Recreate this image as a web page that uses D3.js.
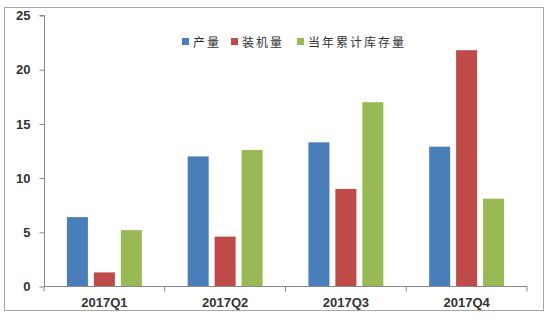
<!DOCTYPE html>
<html>
<head>
<meta charset="utf-8">
<script src="https://cdn.jsdelivr.net/npm/d3@7"></script>
<style>
  body { margin: 0; background: #fff; }
  text { font-family: Arial, "Liberation Sans", sans-serif; }
</style>
</head>
<body>
<div id="chart"></div>
<script>
// chart data
var quarters = ["2017Q1", "2017Q2", "2017Q3", "2017Q4"];
var seriesNames = ["产量", "装机量", "当年累计库存量"];
var output = [6.4, 12.0, 13.3, 12.9];
var installed = [1.3, 4.6, 9.0, 21.8];
var inventory = [5.2, 12.6, 17.0, 8.1];
var yTicks = [0, 5, 10, 15, 20, 25];
var colors = ["#4a7ebb", "#be4b48", "#98b954"];

var W = 554, H = 323;
var svg = d3.select("#chart").append("svg").attr("width", W).attr("height", H);

// outer frame
svg.append("rect")
    .attr("x", 4.5).attr("y", 7.5)
    .attr("width", 539).attr("height", 303)
    .attr("fill", "#fff").attr("stroke", "#a6a6a6");

var x = d3.scaleBand().domain(quarters).range([44, 527]);
var y = d3.scaleLinear().domain([0, 25]).range([286.5, 15.5]);
var inner = d3.scaleBand().domain(d3.range(3)).range([0, x.bandwidth()]).paddingInner(0.22).paddingOuter(0.85);

var series = [output, installed, inventory];

var g = svg.selectAll(".grp")
    .data(quarters).enter().append("g")
    .attr("class", "grp")
    .attr("transform", d => `translate(${x(d)},0)`);

g.selectAll("rect")
    .data((q, i) => series.map((s, k) => ({k: k, v: s[i]})))
    .enter().append("rect")
    .attr("x", d => inner(d.k))
    .attr("width", inner.bandwidth())
    .attr("y", d => y(d.v))
    .attr("height", d => y(0) - y(d.v))
    .attr("fill", d => colors[d.k]);

// y axis
var yAxis = svg.append("g")
    .attr("transform", "translate(44.5,0)")
    .call(d3.axisLeft(y).tickValues(yTicks).tickSize(5).tickPadding(9));
yAxis.select(".domain").attr("stroke", "#888").attr("d", "M-5,15.5H0V286.5");
yAxis.selectAll(".tick line").attr("stroke", "#888");
yAxis.selectAll(".tick text")
    .attr("fill", "#333").style("font-size", "13px").style("font-weight", "bold");

// x axis
var xAxis = svg.append("g")
    .attr("transform", "translate(0,286.5)")
    .call(d3.axisBottom(x).tickSize(0).tickPadding(11));
xAxis.select(".domain").attr("stroke", "#888").attr("d", "M44,0H527");
xAxis.selectAll(".tick text")
    .attr("fill", "#333").style("font-size", "13px").style("font-weight", "bold");
xAxis.selectAll(".sep")
    .data(quarters.concat(["end"])).enter().append("line")
    .attr("class", "sep")
    .attr("x1", (d, i) => i < quarters.length ? x(d) : x.range()[1])
    .attr("x2", (d, i) => i < quarters.length ? x(d) : x.range()[1])
    .attr("y1", 0).attr("y2", 5)
    .attr("stroke", "#888");

// legend
var legX = [182, 231, 297];
var leg = svg.selectAll(".leg")
    .data(seriesNames).enter().append("g")
    .attr("class", "leg")
    .attr("transform", (d, i) => `translate(${legX[i]},42)`);
leg.append("rect")
    .attr("x", 0).attr("y", -4).attr("width", 7).attr("height", 7)
    .attr("fill", (d, i) => colors[i]);
leg.append("text")
    .attr("x", 11).attr("y", 4.5)
    .style("font-family", "'Noto Sans CJK SC', sans-serif")
    .style("font-size", "12px")
    .attr("fill", "#333")
    .attr("letter-spacing", "2")
    .text(d => d);
</script>
</body>
</html>
